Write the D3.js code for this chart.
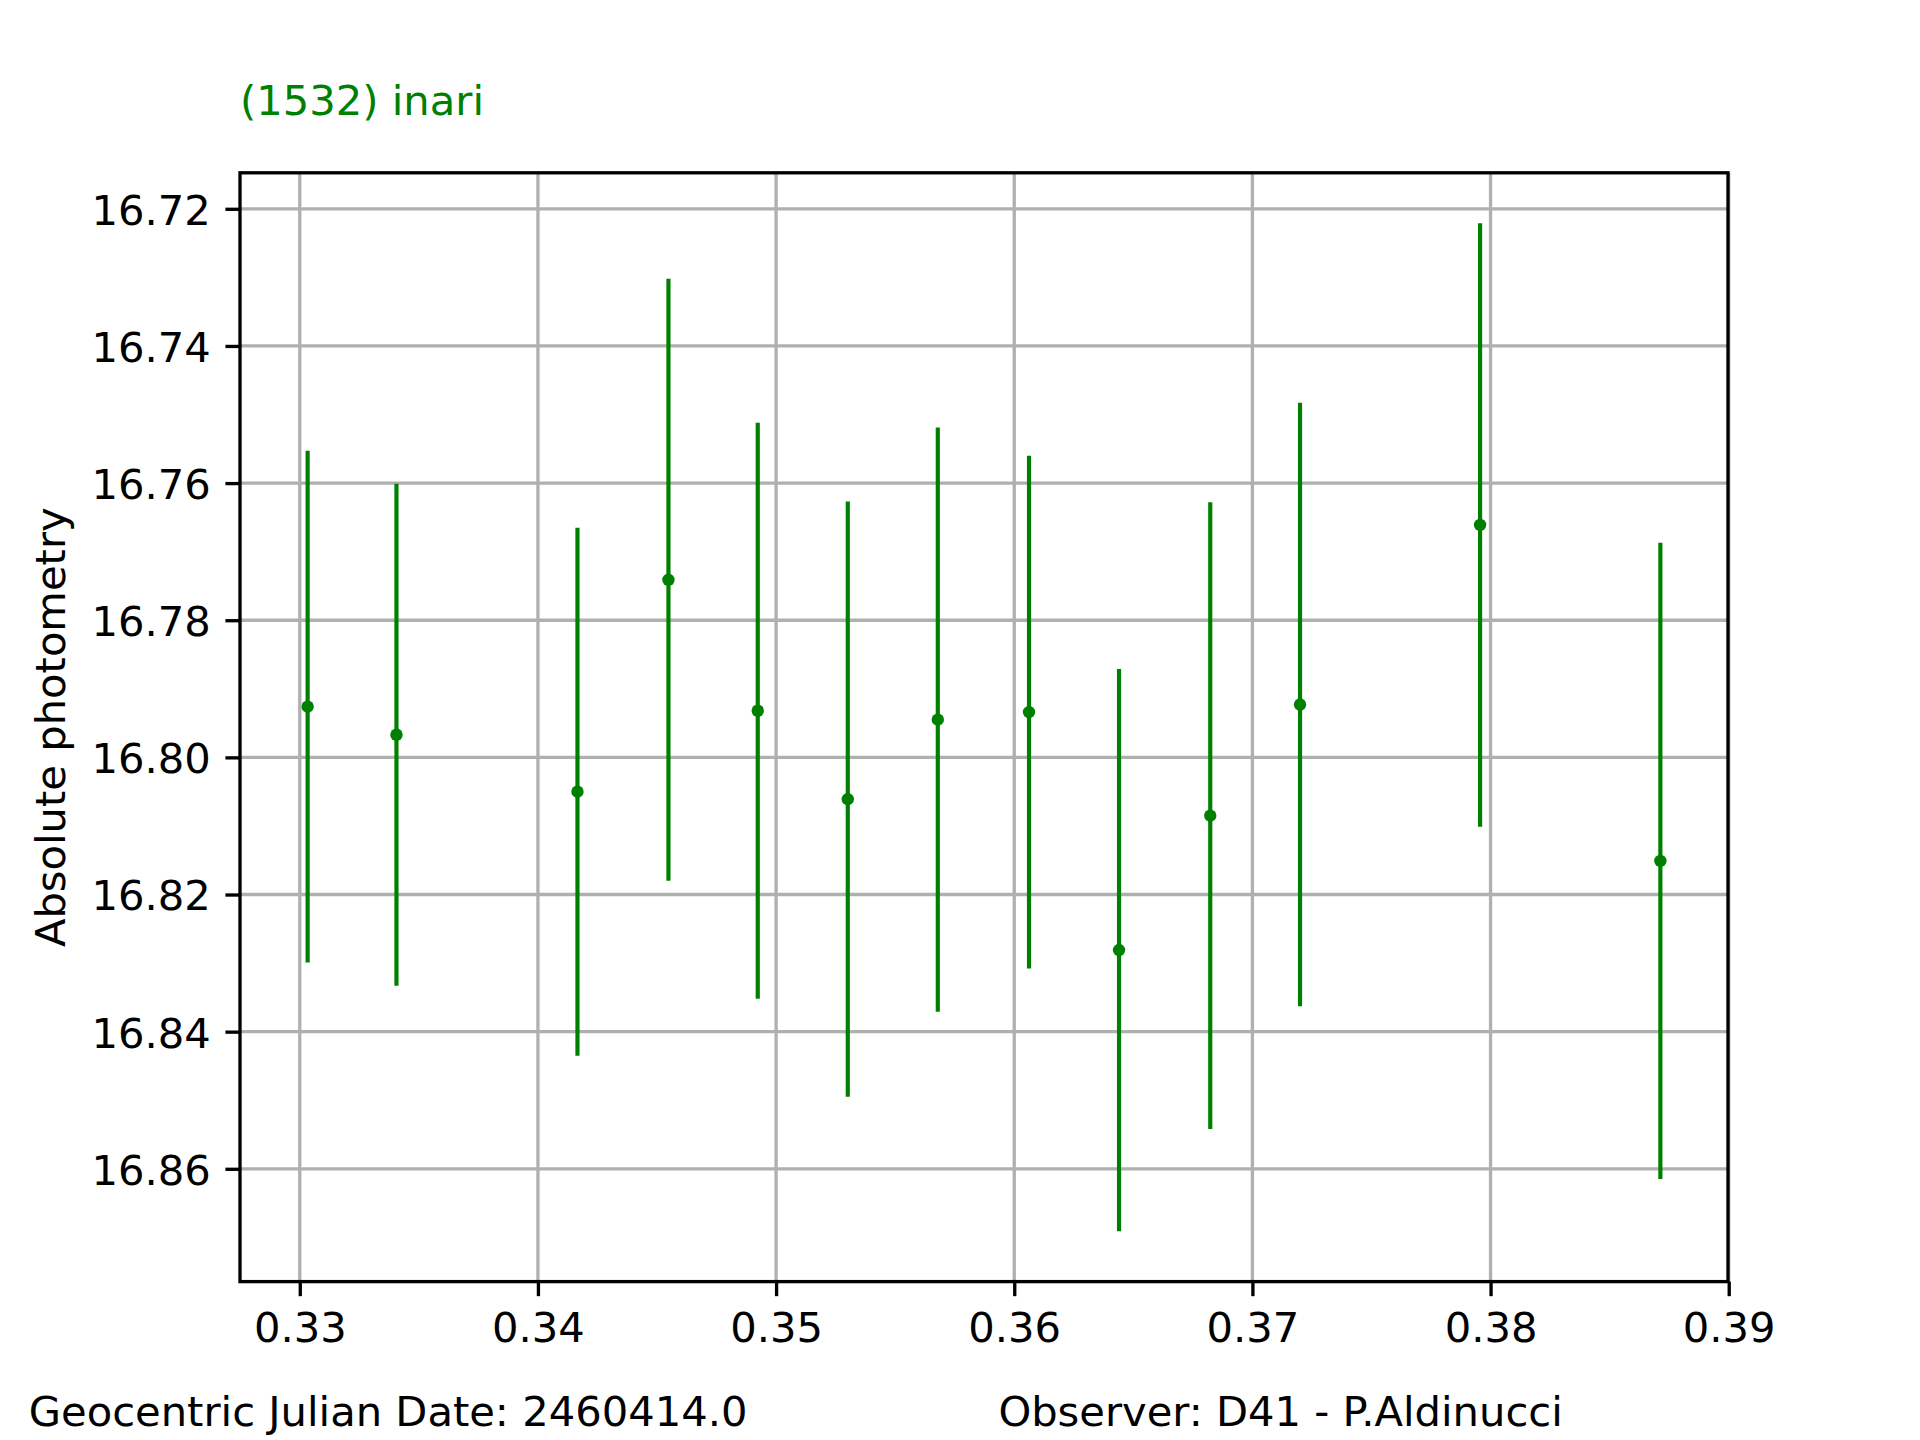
<!DOCTYPE html>
<html>
<head>
<meta charset="utf-8">
<script src="https://cdn.jsdelivr.net/npm/d3@7"></script>
<style>
  html, body { margin: 0; padding: 0; background: #ffffff; }
  svg { display: block; }
  text { font-family: "DejaVu Sans", sans-serif; }
</style>
</head>
<body>
<svg id="chart" width="1920" height="1440"></svg>
<script>
// ---- Data ----
const jdFraction = [0.33033, 0.33406, 0.34166, 0.34548, 0.34923, 0.35301, 0.35679, 0.36062, 0.36440, 0.36823, 0.37200, 0.37956, 0.38713];
const magnitude  = [16.7926, 16.7967, 16.8050, 16.7741, 16.7932, 16.8061, 16.7945, 16.7934, 16.8281, 16.8085, 16.7923, 16.7661, 16.8151];
const magError   = [0.0373, 0.0366, 0.0385, 0.0439, 0.0420, 0.0434, 0.0426, 0.0374, 0.0410, 0.0457, 0.0440, 0.0440, 0.0464];
const xTickValues = [0.33, 0.34, 0.35, 0.36, 0.37, 0.38, 0.39];
const yTickValues = [16.72, 16.74, 16.76, 16.78, 16.80, 16.82, 16.84, 16.86];
const titleText = "(1532) inari";
const yLabelText = "Absolute photometry";
const footLeft = "Geocentric Julian Date: 2460414.0";
const footRight = "Observer: D41 - P.Aldinucci";

(function () {
// ---- Layout ----
const W = 1920, H = 1440;
const pLeft = 240, pRight = 1728, pTop = 172.8, pBottom = 1281.6;
const green = "#008000";
const fs = 41.67;
const lw = 3.33;
const tickLen = 14.58, tickPad = 14.58;

const points = jdFraction.map((x, i) => ({ x, y: magnitude[i], e: magError[i] }));

// matplotlib-like 5% margins
const xlo = d3.min(jdFraction), xhi = d3.max(jdFraction);
const xm = (xhi - xlo) * 0.05;
const ylo = d3.min(points, d => d.y - d.e), yhi = d3.max(points, d => d.y + d.e);
const ym = (yhi - ylo) * 0.05;

const x = d3.scaleLinear().domain([xlo - xm, xhi + xm]).range([pLeft, pRight]);
// inverted magnitude axis: small values at top
const y = d3.scaleLinear().domain([ylo - ym, yhi + ym]).range([pTop, pBottom]);

const svg = d3.select("#chart");
svg.append("rect").attr("width", W).attr("height", H).attr("fill", "#ffffff");

// grid
const grid = svg.append("g");
grid.selectAll("line.gx").data(xTickValues).enter().append("line")
  .attr("x1", d => x(d)).attr("x2", d => x(d))
  .attr("y1", pTop).attr("y2", pBottom)
  .attr("stroke", "#b0b0b0").attr("stroke-width", lw);
grid.selectAll("line.gy").data(yTickValues).enter().append("line")
  .attr("y1", d => y(d)).attr("y2", d => y(d))
  .attr("x1", pLeft).attr("x2", pRight)
  .attr("stroke", "#b0b0b0").attr("stroke-width", lw);

// error bars
const marks = svg.append("g");
marks.selectAll("line.eb").data(points).enter().append("line")
  .attr("x1", d => x(d.x)).attr("x2", d => x(d.x))
  .attr("y1", d => y(d.y - d.e)).attr("y2", d => y(d.y + d.e))
  .attr("stroke", green).attr("stroke-width", 4.17);
marks.selectAll("circle").data(points).enter().append("circle")
  .attr("cx", d => x(d.x)).attr("cy", d => y(d.y))
  .attr("r", 6.2).attr("fill", green);

// axes
const xAxis = d3.axisBottom(x).tickValues(xTickValues).tickFormat(d3.format(".2f"))
  .tickSize(tickLen).tickPadding(tickPad);
const yAxis = d3.axisLeft(y).tickValues(yTickValues).tickFormat(d3.format(".2f"))
  .tickSize(tickLen).tickPadding(tickPad);

const gx = svg.append("g").attr("transform", `translate(0,${pBottom})`).call(xAxis);
const gy = svg.append("g").attr("transform", `translate(${pLeft},0)`).call(yAxis);
[gx, gy].forEach(g => {
  g.select(".domain").remove();
  g.selectAll(".tick line").attr("stroke", "#000").attr("stroke-width", lw);
  g.selectAll(".tick text").attr("fill", "#000").style("font-size", fs + "px")
    .style("font-family", "'DejaVu Sans', sans-serif");
});
gx.selectAll(".tick text").attr("dy", "0.74em");
gy.selectAll(".tick text").attr("dy", "0.37em");

// frame (spines)
svg.append("rect")
  .attr("x", pLeft).attr("y", pTop)
  .attr("width", pRight - pLeft).attr("height", pBottom - pTop)
  .attr("fill", "none").attr("stroke", "#000").attr("stroke-width", lw);

// y label
svg.append("text")
  .attr("transform", `translate(65,${(pTop + pBottom) / 2}) rotate(-90)`)
  .attr("text-anchor", "middle")
  .style("font-size", fs + "px")
  .attr("fill", "#000")
  .text(yLabelText);

// title
svg.append("text")
  .attr("x", 240).attr("y", 115.2)
  .style("font-size", fs + "px")
  .attr("fill", green)
  .text(titleText);

// footers
svg.append("text")
  .attr("x", 28.8).attr("y", 1426)
  .style("font-size", fs + "px").attr("fill", "#000")
  .text(footLeft);
svg.append("text")
  .attr("x", 998.4).attr("y", 1426)
  .style("font-size", fs + "px").attr("fill", "#000")
  .text(footRight);
})();
</script>
</body>
</html>
